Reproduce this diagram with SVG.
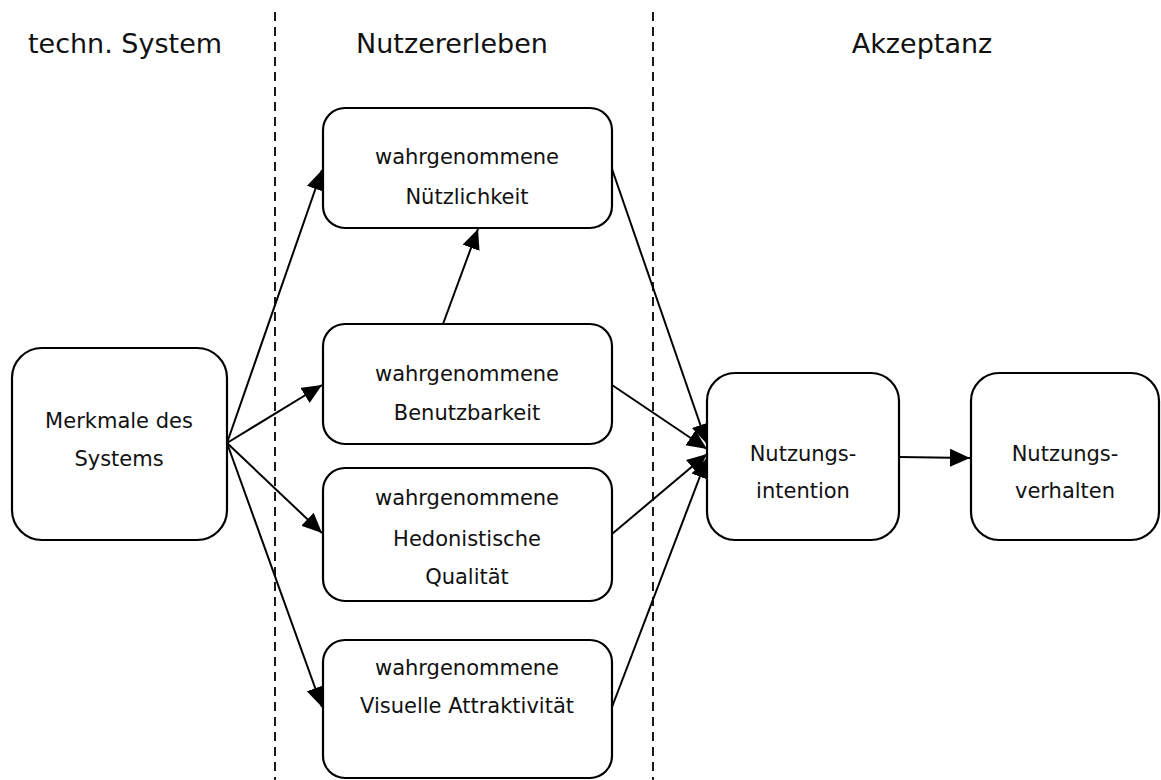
<svg xmlns="http://www.w3.org/2000/svg" width="1161" height="780" viewBox="0 0 1161 780">
<style>
.box{fill:#fff;stroke:#000;stroke-width:2.2}
.t{font-family:"DejaVu Sans","Liberation Sans",sans-serif;font-size:21px;fill:#111;text-anchor:middle}
.h{font-family:"DejaVu Sans","Liberation Sans",sans-serif;font-size:27px;fill:#111;text-anchor:middle}
.sep{stroke:#000;stroke-width:1.8;stroke-dasharray:9 6;fill:none}
.c{stroke:#000;stroke-width:2;fill:none;marker-end:url(#ah)}
</style>
<defs>
<marker id="ah" markerUnits="userSpaceOnUse" markerWidth="22" markerHeight="20" refX="20" refY="9" orient="auto">
<path d="M0,0 L20,9 L0,18 z" fill="#000"/>
</marker>
</defs>
<rect width="1161" height="780" fill="#fff"/>
<g id="headers">
<text class="h" x="125" y="53">techn. System</text>
<text class="h" x="452" y="53">Nutzererleben</text>
<text class="h" x="922" y="53">Akzeptanz</text>
</g>
<g id="separators">
<line class="sep" x1="275" y1="12" x2="275" y2="780"/>
<line class="sep" x1="653" y1="12" x2="653" y2="780"/>
</g>
<g id="connectors">
<line class="c" x1="227" y1="443" x2="322" y2="170"/>
<line class="c" x1="227" y1="443" x2="322" y2="385"/>
<line class="c" x1="227" y1="443" x2="322" y2="533"/>
<line class="c" x1="227" y1="443" x2="322" y2="707"/>
<line class="c" x1="443" y1="324" x2="478" y2="229"/>
<line class="c" x1="612" y1="169" x2="707" y2="444"/>
<line class="c" x1="612" y1="385" x2="707" y2="449"/>
<line class="c" x1="612" y1="534" x2="707" y2="454"/>
<line class="c" x1="612" y1="707" x2="707" y2="458"/>
<line class="c" x1="899" y1="457" x2="970" y2="458"/>
</g>
<g id="merkmale">
<rect class="box" x="12" y="348" width="215" height="192" rx="30"/>
<text class="t" x="119" y="428">Merkmale des</text>
<text class="t" x="119" y="466">Systems</text>
</g>
<g id="nuetzlichkeit">
<rect class="box" x="323" y="108" width="289" height="120" rx="22"/>
<text class="t" x="467" y="164">wahrgenommene</text>
<text class="t" x="467" y="204">Nützlichkeit</text>
</g>
<g id="benutzbarkeit">
<rect class="box" x="323" y="324" width="289" height="120" rx="22"/>
<text class="t" x="467" y="381">wahrgenommene</text>
<text class="t" x="467" y="420">Benutzbarkeit</text>
</g>
<g id="hedonistisch">
<rect class="box" x="323" y="468" width="289" height="133" rx="22"/>
<text class="t" x="467" y="505">wahrgenommene</text>
<text class="t" x="467" y="546">Hedonistische</text>
<text class="t" x="467" y="584">Qualität</text>
</g>
<g id="visuell">
<rect class="box" x="323" y="640" width="289" height="138" rx="22"/>
<text class="t" x="467" y="675">wahrgenommene</text>
<text class="t" x="467" y="713">Visuelle Attraktivität</text>
</g>
<g id="intention">
<rect class="box" x="707" y="373" width="192" height="167" rx="28"/>
<text class="t" x="803" y="461">Nutzungs-</text>
<text class="t" x="803" y="498">intention</text>
</g>
<g id="verhalten">
<rect class="box" x="971" y="373" width="188" height="167" rx="28"/>
<text class="t" x="1065" y="461">Nutzungs-</text>
<text class="t" x="1065" y="498">verhalten</text>
</g>
</svg>
